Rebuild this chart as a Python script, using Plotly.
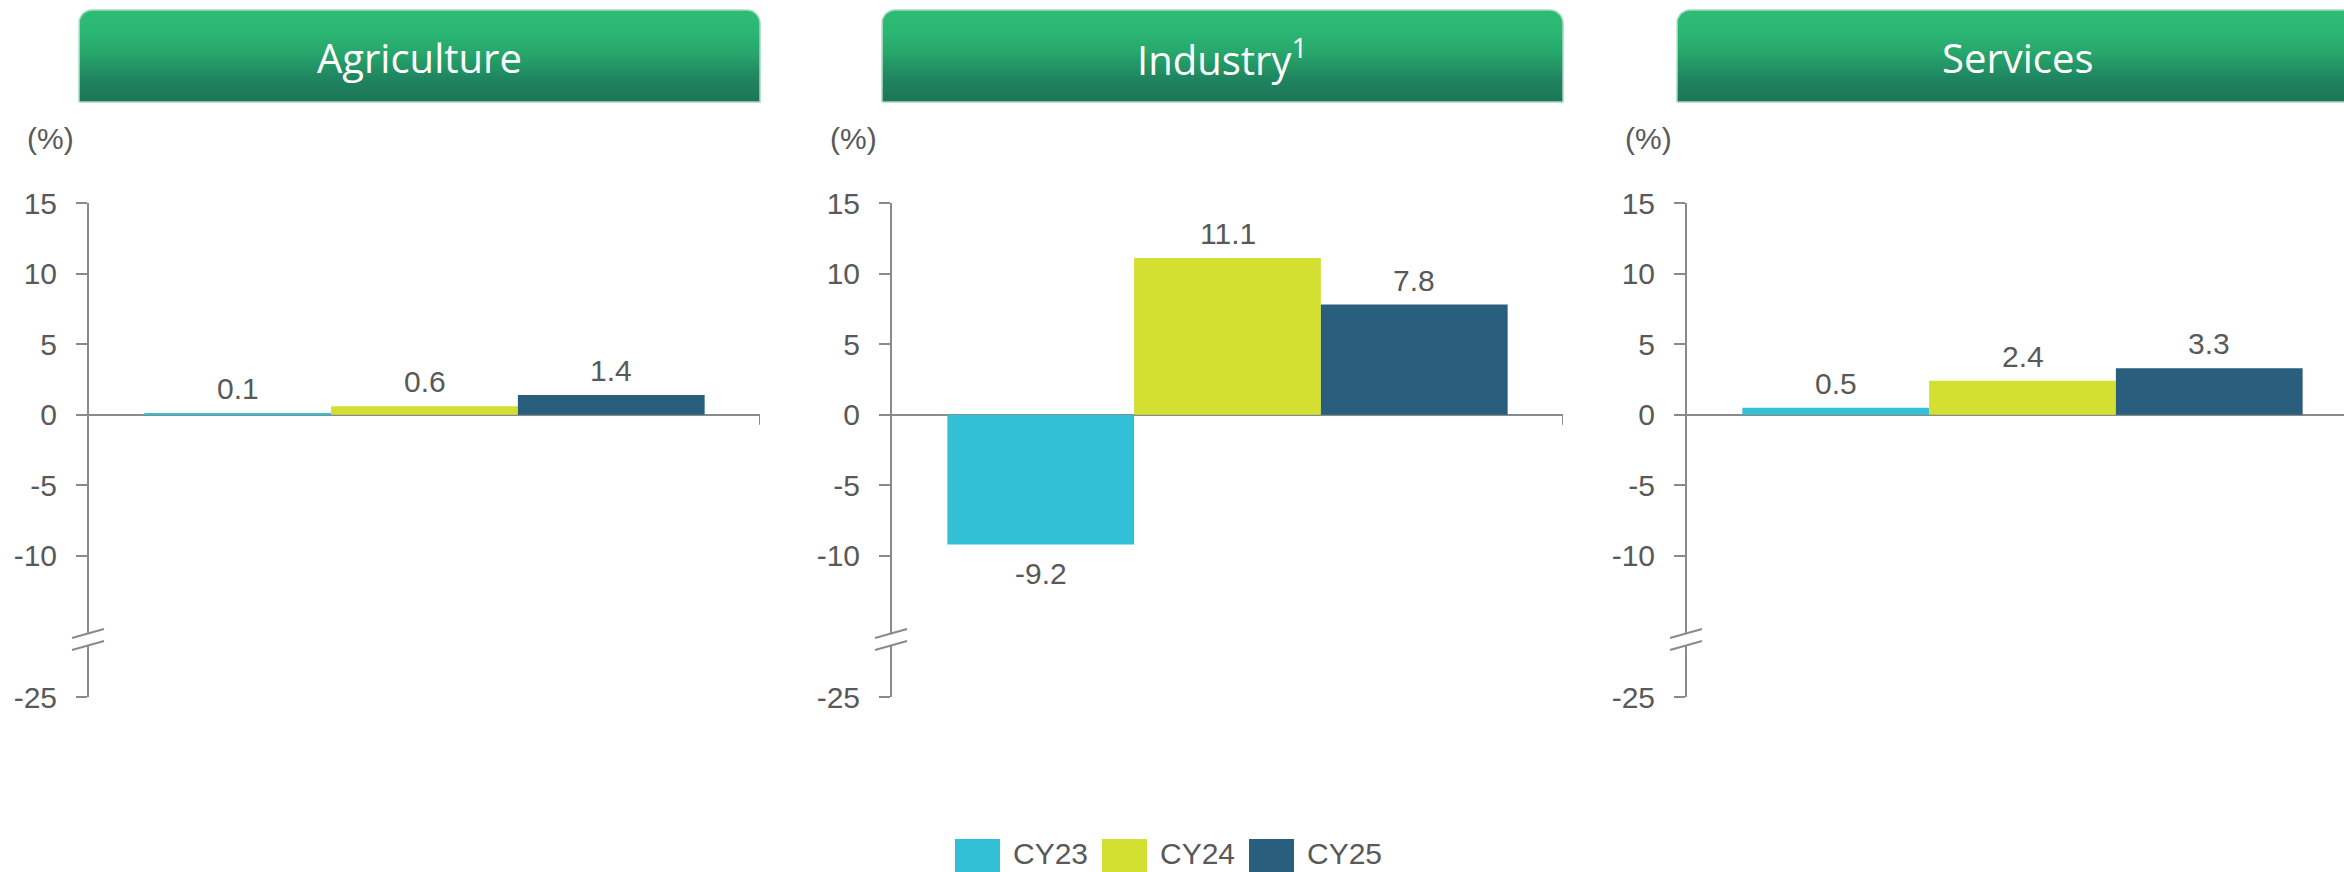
import numpy as np
import plotly.graph_objects as go

# ---------------- data ----------------
sectors = ["Agriculture", "Industry<sup>1</sup>", "Services"]
series = ["CY23", "CY24", "CY25"]
agriculture = [0.1, 0.6, 1.4]
industry = [-9.2, 11.1, 7.8]
services = [0.5, 2.4, 3.3]
values = [agriculture, industry, services]
colors = ["#31C0D6", "#D4E031", "#295E7D"]
y_tickvals = [15, 10, 5, 0, -5, -10, -20]
y_ticktext = ["15", "10", "5", "0", "-5", "-10", "-25"]
y_range = [-20, 15]
break_lo, break_hi = -16.39, -15.47   # axis break (scale compressed below)

# ---------------- layout constants ----------------
W, H = 2344, 872
AX_X0 = [89, 892, 1687]
AX_W = 671
Y_TOP, Y_BOT = 203, 697
GRAY = "#8A8A8A"
TXT = "#595959"
NUM_FONT = "Liberation Sans Narrow, Arial Narrow, Liberation Sans, Arial, sans-serif"
HDR_FONT = "Open Sans, Liberation Sans, sans-serif"
GROUP = 0.835
bw = GROUP / 3

def px(x):
    return x / W

def py(y):
    return (H - y) / H

fig = go.Figure()
annotations = []
shapes = []
layout_axes = {}

# header backgrounds first (full-page helper axes, transparent)
for p in range(3):
    x0 = AX_X0[p]
    x1 = x0 + AX_W
    hx0, hx1 = x0 - 10, x1
    r = 13
    top, bot = H - 10, H - 102
    t1 = np.linspace(np.pi, np.pi / 2, 10)
    t2 = np.linspace(np.pi / 2, 0, 10)
    hx = [hx0] + list(hx0 + r + r * np.cos(t1)) + list(hx1 - r + r * np.cos(t2)) + [hx1, hx0]
    hy = [bot] + list(top - r + r * np.sin(t1)) + list(top - r + r * np.sin(t2)) + [bot, bot]
    fig.add_trace(go.Scatter(
        x=hx, y=hy, mode="lines", fill="toself",
        line=dict(color="#A6D9BE", width=1.5),
        fillgradient=dict(type="vertical",
                          colorscale=[[0, "#1D7556"], [0.25, "#1F8460"],
                                      [0.55, "#27A86C"], [0.8, "#2BB874"],
                                      [1, "#2DBC76"]]),
        xaxis="x4", yaxis="y4", showlegend=False, hoverinfo="skip"))
    annotations.append(dict(x=px((hx0 + hx1) / 2), y=py(57), xref="paper", yref="paper",
                            xanchor="center", yanchor="middle", text=sectors[p],
                            showarrow=False,
                            font=dict(family=HDR_FONT, size=40, color="white")))

for p in range(3):
    xa = "x" if p == 0 else f"x{p+1}"
    ya = "y" if p == 0 else f"y{p+1}"
    xkey = "xaxis" if p == 0 else f"xaxis{p+1}"
    ykey = "yaxis" if p == 0 else f"yaxis{p+1}"
    x0 = AX_X0[p]
    x1 = x0 + AX_W
    dom_x1 = min(1.0, px(x1))
    vis_w = min(x1, W) - x0
    xr = [-0.5, -0.5 + vis_w / AX_W]
    for i, s in enumerate(series):
        off = -GROUP / 2 + i * bw
        v = values[p][i]
        fig.add_trace(go.Bar(
            x=[0], y=[v], width=[bw], offset=[off], name=s,
            marker=dict(color=colors[i], line=dict(width=0)),
            showlegend=False, xaxis=xa, yaxis=ya, hoverinfo="y+name"))
        annotations.append(dict(
            x=off + bw / 2, y=v, xref=xa, yref=ya, text=f"{v:.1f}",
            showarrow=False, yanchor="bottom" if v >= 0 else "top",
            yshift=6 if v >= 0 else -10,
            font=dict(family=NUM_FONT, size=30, color=TXT)))
    layout_axes[xkey] = dict(domain=[px(x0), dom_x1], range=xr, anchor=ya,
                             showgrid=False, zeroline=False, showline=False,
                             showticklabels=False, ticks="", fixedrange=True,
                             automargin=False)
    layout_axes[ykey] = dict(domain=[py(Y_BOT), py(Y_TOP)], range=y_range, anchor=xa,
                             tickvals=y_tickvals, ticktext=y_ticktext,
                             showline=True, linecolor=GRAY, linewidth=2,
                             ticks="outside", ticklen=11, tickwidth=2, tickcolor=GRAY,
                             showgrid=False, zeroline=True, zerolinecolor=GRAY,
                             zerolinewidth=2, ticklabelstandoff=13,
                             tickfont=dict(family=NUM_FONT, size=30, color=TXT),
                             fixedrange=True, automargin=False)
    # right-end boundary tick of the category axis
    shapes.append(dict(type="line", xref=xa, yref=ya, x0=0.5, x1=0.5,
                       ysizemode="pixel", yanchor=0, y0=0, y1=-10,
                       line=dict(color=GRAY, width=2), layer="above"))
    # axis break: gap + two slanted marks
    shapes.append(dict(type="rect", xref=f"{xa} domain", yref=ya,
                       xsizemode="pixel", xanchor=0, x0=-5, x1=5,
                       y0=break_lo, y1=break_hi, fillcolor="white",
                       line=dict(width=0), layer="above"))
    for (ya0, ya1) in [(-15.82, -15.18), (-16.67, -16.03)]:
        shapes.append(dict(type="line", xref=f"{xa} domain", yref=ya,
                           xsizemode="pixel", xanchor=0, x0=-17, x1=15,
                           y0=ya0, y1=ya1, line=dict(color=GRAY, width=2),
                           layer="above"))
    # (%) unit label
    annotations.append(dict(x=px(x0 - 64), y=py(139), xref="paper", yref="paper",
                            xanchor="left", yanchor="middle", text="(%)",
                            showarrow=False,
                            font=dict(family=NUM_FONT, size=30, color=TXT)))

layout_axes["xaxis4"] = dict(domain=[0, 1], range=[0, W], visible=False, anchor="y4",
                             fixedrange=True, automargin=False)
layout_axes["yaxis4"] = dict(domain=[0, 1], range=[0, H], visible=False, anchor="x4",
                             fixedrange=True, automargin=False)

# legend (manual, large square swatches)
LEG_X0, LEG_STEP, LEG_SZ = 955, 147, 45
for i, s in enumerate(series):
    lx = LEG_X0 + i * LEG_STEP
    shapes.append(dict(type="rect", xref="paper", yref="paper",
                       x0=px(lx), x1=px(lx + LEG_SZ), y0=py(839 + LEG_SZ), y1=py(839),
                       fillcolor=colors[i], line=dict(width=0)))
    annotations.append(dict(x=px(lx + 56), y=py(872), xref="paper", yref="paper",
                            xanchor="left", yanchor="bottom", text=s, showarrow=False,
                            font=dict(family=NUM_FONT, size=30, color=TXT)))

fig.update_layout(
    template="none",
    width=W, height=H, margin=dict(l=0, r=0, t=0, b=0, pad=0, autoexpand=False),
    paper_bgcolor="white", plot_bgcolor="rgba(0,0,0,0)",
    barmode="overlay", showlegend=False,
    annotations=annotations, shapes=shapes,
    **layout_axes)

fig.write_html("out.html", config={"displayModeBar": False})
